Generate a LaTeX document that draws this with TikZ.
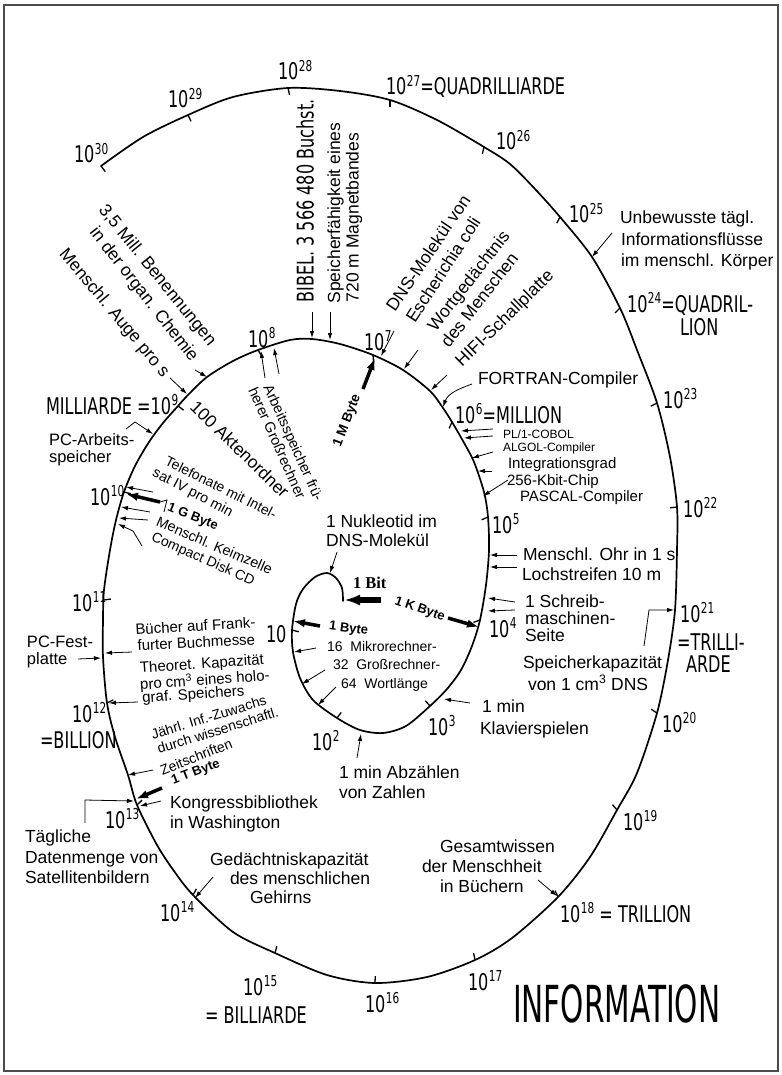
\documentclass[tikz,border=0pt]{standalone}
\usepackage{fontspec}
\setmainfont{Liberation Sans}
\newfontfamily\din[FakeStretch=0.7]{DejaVu Sans}
\newfontfamily\dintitle[FakeStretch=0.58]{DejaVu Sans}
\newfontfamily\bitfont{Liberation Serif}
\usetikzlibrary{arrows.meta,calc}
\newcommand\pw[1]{10\kern0.5pt\raisebox{8.5pt}{\fontsize{15}{15}\selectfont #1}}
\newcommand\mytick[2]{\draw[tk] (#1) -- ($(#1)!7pt!(#2)$);}
\begin{document}
\begin{tikzpicture}[x=1pt,y=-1pt,
  every node/.style={inner sep=0pt,outer sep=0pt},
  num/.style={font=\din\fontsize{23}{23}\selectfont,anchor=base west},
  txt/.style={font=\fontsize{17.5}{21}\selectfont,anchor=base west},
  stxt/.style={font=\fontsize{15}{18}\selectfont,anchor=base west},
  rtxt/.style={font=\fontsize{17.5}{21}\selectfont,anchor=mid},
  rstxt/.style={font=\fontsize{15}{18}\selectfont,anchor=mid},
  bld/.style={font=\bfseries\fontsize{13}{13}\selectfont,anchor=mid},
  arr/.style={line width=0.8pt,-{Latex[length=7pt,width=4.5pt]}},
  thk/.style={line width=3.5pt,-{Latex[length=12pt,width=8.5pt]}},
  tk/.style={line width=1.3pt},
  spiral/.style={line width=1.7pt,line join=round,line cap=round}]
\useasboundingbox (0,0) rectangle (781,1075);
\fill[white] (0,0) rectangle (781,1075);
\draw[black!70,line width=1.2pt] (4,5) rectangle (778,1071);

% spiral
\draw[spiral] plot[smooth,tension=0.5] coordinates {(343,601) (342,588) (336,578) (327,573) (315,577) (303,589) (296,604) (292,630) (293,652) (300,678) (313,700) (337,718) (360,730) (383,733) (406,726) (430,706) (447,689) (461,670) (472,646) (480,620) (486,585) (489,550) (488,517) (484,492) (474,462) (463,441) (452,422) (443,408) (430,391) (403,370) (373,355) (340,344) (312,339) (290,340) (258,350) (233,361) (207,377) (188,395) (178,406) (163,423) (149,442) (135,466) (124,492) (116,520) (110,550) (104,590) (103,620) (103,657) (107,703) (115,737) (128,775) (137,805) (157,845) (174,871) (193,895) (233,932) (275,953) (327,975) (375,983) (427,977) (475,960) (512,938) (558,897) (590,857) (617,810) (637,773) (657,713) (668,660) (675,610) (677,550) (677,507) (670,457) (657,403) (637,350) (620,308) (592,257) (560,217) (535,189) (510,164) (484,147) (437,120) (390,100) (340,91) (288,88) (233,97) (188,115) (143,137) (101,166)};

% tick points
\coordinate (Ci) at (385,655);
\coordinate (Cm) at (390,560);
\coordinate (Co) at (390,540);
\coordinate (D1) at (292,630);
\coordinate (D2) at (337,718);
\coordinate (D3) at (430,706);
\coordinate (D4) at (480,620);
\coordinate (D5) at (488,517);
\coordinate (D6) at (452,422);
\coordinate (D7) at (373,355);
\coordinate (D8) at (258,350);
\coordinate (D9) at (178,406);
\coordinate (D10) at (124,492);
\coordinate (D11) at (104,600);
\coordinate (D12) at (107,703);
\coordinate (D13) at (137,805);
\coordinate (D14) at (193,895);
\coordinate (D15) at (275,953);
\coordinate (D16) at (375,983);
\coordinate (D17) at (475,960);
\coordinate (D18) at (558,897);
\coordinate (D19) at (617,810);
\coordinate (D20) at (657,713);
\coordinate (D22) at (677,507);
\coordinate (D23) at (657,403);
\coordinate (D24) at (620,308);
\coordinate (D25) at (560,217);
\coordinate (D26) at (484,147);
\coordinate (D27) at (390,100);
\coordinate (D28) at (288,88);
\coordinate (D29) at (188,115);
\coordinate (D30) at (101,166);
\foreach \d in {D1,D2,D3,D4}{\mytick{\d}{Ci}}
\foreach \d in {D5,D6,D7,D8,D9,D10,D11,D12,D13}{\mytick{\d}{Cm}}
\foreach \d in {D14,D15,D16,D17,D18,D19,D20,D22,D23,D24,D25,D26,D27,D28,D29,D30}{\mytick{\d}{Co}}

% arrow end points
\foreach \n/\a/\b in {unb/{612,233}/{592,257}, ges/{538,880}/{557,896}, ged/{213,877}/{195,898},
  kon/{161,801}/{140,806}, zei/{153,770}/{128,775}, the/{138,702}/{109,703}, buc/{132,652}/{105,653},
  pcf/{78,659}/{101,658}, tel/{153,492}/{126,487}, gbx/{150,512}/{121,507}, kei/{148,520}/{119,518},
  mau/{170,378}/{187,394}, mil/{195,370}/{207,377}, abA/{265,378}/{261,351}, abB/{279,374}/{274,348},
  bib/{312,312}/{312,338}, spf/{330,312}/{330,340}, dns/{394,331}/{381,356}, wor/{418,350}/{404,369},
  hif/{447,375}/{431,390}, plc/{493,429}/{461,431}, alg/{493,436}/{464,438}, itg/{493,452}/{472,458},
  kbc/{492,471}/{478,471}, pas/{508,480}/{483,496}, ohr/{517,555}/{490,555}, loc/{517,567}/{490,567},
  scA/{515,602}/{488,598}, scB/{515,610}/{488,611}, kla/{470,703}/{444,699}, abz/{357,758}/{361,734},
  wA/{316,648}/{294,652}, wB/{325,670}/{302,684}, wC/{336,687}/{318,705}, nuk/{337,552}/{330,573}}
  {\coordinate (\n s) at (\a); \coordinate (\n e) at (\b); \draw[arr] (\n s) -- (\n e);}
\foreach \n/\a/\b in {tby/{162,788}/{136,799}, gby/{160,502}/{126,494}, mby/{363,389}/{375,358},
  kby/{448,618}/{479,627}, byt/{320,626}/{293,621}}
  {\coordinate (\n s) at (\a); \coordinate (\n e) at (\b); \draw[thk] (\n s) -- (\n e);}
\coordinate (bits) at (381,600); \coordinate (bite) at (344,600);
\draw[line width=5.5pt,-{Latex[length=16pt,width=11pt]}] (bits) -- (bite);
% bent connectors
\coordinate (gbk1) at (160,502); \coordinate (gbk2) at (167,500); \coordinate (gbk3) at (164,512);
\draw[line width=0.8pt] (gbk1) -- (gbk2) -- (gbk3);
\coordinate (cdd1) at (142,546); \coordinate (cdd2) at (133,531); \coordinate (cdd3) at (118,524);
\draw[arr] (cdd1) -- (cdd2) -- (cdd3);
\coordinate (spk1) at (644,646); \coordinate (spk2) at (649,610); \coordinate (spk3) at (674,610);
\draw[arr] (spk1) -- (spk2) -- (spk3);
\coordinate (tag1) at (85,823); \coordinate (tag2) at (85,800); \coordinate (tag3) at (134,801);
\draw[arr] (tag1) -- (tag2) -- (tag3);
\coordinate (pca1) at (126,429); \coordinate (pca2) at (135,422); \coordinate (pca3) at (153,434);
\draw[arr] (pca1) -- (pca2) -- (pca3);
\coordinate (for1) at (472,384); \coordinate (for2) at (443,407);
\draw[arr] (for1) to[out=200,in=70] (for2);

% decade labels
\node[num] (n30) at (74,163) {\pw{30}};
\node[num] (n29) at (168,108) {\pw{29}};
\node[num] (n28) at (278,80) {\pw{28}};
\node[num] (n27) at (386,95) {\pw{27}=QUADRILLIARDE};
\node[num] (n26) at (496,150) {\pw{26}};
\node[num] (n25) at (569,223) {\pw{25}};
\node[num] (n24) at (627,312) {\pw{24}=QUADRIL-};
\node[num] (n24b) at (680,335) {LION};
\node[num] (n23) at (663,408) {\pw{23}};
\node[num] (n22) at (683,517) {\pw{22}};
\node[num] (n21) at (680,622) {\pw{21}};
\node[num] (n21b) at (677,650) {=TRILLI-};
\node[num] (n21c) at (686,672) {ARDE};
\node[num] (n20) at (662,732) {\pw{20}};
\node[num] (n19) at (623,830) {\pw{19}};
\node[num] (n18) at (560,922) {\pw{18} = TRILLION};
\node[num] (n17) at (468,990) {\pw{17}};
\node[num] (n16) at (365,1012) {\pw{16}};
\node[num] (n15) at (243,995) {\pw{15}};
\node[num] (n15b) at (205,1023) {= BILLIARDE};
\node[num] (n14) at (160,921) {\pw{14}};
\node[num] (n13) at (105,828) {\pw{13}};
\node[num] (n12) at (72,722) {\pw{12}};
\node[num] (n12b) at (40,748) {=BILLION};
\node[num] (n11) at (72,611) {\pw{11}};
\node[num] (n10) at (90,505) {\pw{10}};
\node[num] (n9) at (46,414) {MILLIARDE =\pw{9}};
\node[num] (n8) at (248,347) {\pw{8}};
\node[num] (n7) at (364,350) {\pw{7}};
\node[num] (n6) at (455,423) {\pw{6}=MILLION};
\node[num] (n5) at (492,533) {\pw{5}};
\node[num] (n4) at (489,637) {\pw{4}};
\node[num] (n3) at (428,735) {\pw{3}};
\node[num] (n2) at (312,750) {\pw{2}};
\node[num] (n1) at (266,642) {10};
\node[font=\dintitle\fontsize{51}{51}\selectfont,anchor=base west] (title) at (513,1022) {INFORMATION};
\node[font=\din\fontsize{23}{23}\selectfont,anchor=mid,rotate=90] (bibel) at (311,201) {BIBEL. 3 566 480 Buchst.};

% horizontal texts
\node[txt] (u1) at (620,224) {Unbewusste tägl.};
\node[txt] (u2) at (621,245) {Informationsflüsse};
\node[txt] (u3) at (621,266.5) {im menschl. Körper};
\node[txt] (fort) at (478,384) {FORTRAN-Compiler};
\node[txt,font=\fontsize{12}{12}\selectfont] (pl1) at (503,438) {PL/1-COBOL};
\node[txt,font=\fontsize{12}{12}\selectfont] (algol) at (503,451) {ALGOL-Compiler};
\node[stxt] (integ) at (508,468) {Integrationsgrad};
\node[stxt] (kbit) at (507,485) {256-Kbit-Chip};
\node[stxt] (pascal) at (520,501) {PASCAL-Compiler};
\node[txt] (nuk1) at (326,527) {1 Nukleotid im};
\node[txt] (nuk2) at (326,546) {DNS-Molekül};
\node[txt] (ohr) at (523,560) {Menschl. Ohr in 1 s};
\node[txt] (loch) at (522,580) {Lochstreifen 10 m};
\node[txt] (sch1) at (525,607) {1 Schreib-};
\node[txt] (sch2) at (525,624) {maschinen-};
\node[txt] (sch3) at (525,641) {Seite};
\node[txt] (spk) at (523,668) {Speicherkapazität};
\node[txt] (spkb) at (528,690) {von 1 cm\textsuperscript{3} DNS};
\node[txt] (kla1) at (482,712) {1 min};
\node[txt] (kla2) at (480,734) {Klavierspielen};
\node[txt] (abz1) at (339,778) {1 min Abzählen};
\node[txt] (abz2) at (339,798) {von Zahlen};
\node[txt,font=\fontsize{14}{14}\selectfont] (w16) at (327,651) {16\ \ Mikrorechner-};
\node[txt,font=\fontsize{14}{14}\selectfont] (w32) at (333,669) {32\ \ Großrechner-};
\node[txt,font=\fontsize{14}{14}\selectfont] (w64) at (341,688) {64\ \ Wortlänge};
\node[txt,font=\fontsize{16.5}{16.5}\selectfont] (pca) at (49,445) {PC-Arbeits-};
\node[txt,font=\fontsize{16.5}{16.5}\selectfont] (pcab) at (49,462) {speicher};
\node[txt,font=\fontsize{16.5}{16.5}\selectfont] (pcf) at (27,647) {PC-Fest-};
\node[txt,font=\fontsize{16.5}{16.5}\selectfont] (pcfb) at (27,664) {platte};
\node[txt] (kon1) at (170,808) {Kongressbibliothek};
\node[txt] (kon2) at (170,828) {in Washington};
\node[txt] (tag1t) at (25,842) {Tägliche};
\node[txt] (tag2t) at (25,863) {Datenmenge von};
\node[txt] (tag3t) at (25,883) {Satellitenbildern};
\node[txt] (ged1) at (210,865) {Gedächtniskapazität};
\node[txt] (ged2) at (230,884) {des menschlichen};
\node[txt] (ged3) at (250,903) {Gehirns};
\node[txt] (ges1) at (440,852) {Gesamtwissen};
\node[txt] (ges2) at (422,872) {der Menschheit};
\node[txt] (ges3) at (440,892) {in Büchern};

% rotated texts
\node[rtxt,rotate=-51] (mil1) at (155.5,277) {3,5 Mill. Benennungen};
\node[rtxt,rotate=-52] (mil2) at (142,296) {in der organ. Chemie};
\node[rtxt,rotate=-50] (auge) at (112.5,314.5) {Menschl. Auge pro s};
\node[rtxt,rotate=90] (spf1) at (337.5,213) {Speicherfähigkeit eines};
\node[rtxt,rotate=90] (spf2) at (356,217.5) {720 m Magnetbandes};
\node[rtxt,rotate=56] (dns1) at (431,255) {DNS-Molekül von};
\node[rtxt,rotate=57] (dns2) at (446,271.5) {Escherichia coli};
\node[rtxt,rotate=52] (wor1) at (471,283) {Wortgedächtnis};
\node[rtxt,rotate=52] (wor2) at (482,302) {des Menschen};
\node[rtxt,rotate=44.5] (hifi) at (506.5,320.5) {HIFI-Schallplatte};
\node[rtxt,font=\fontsize{14.5}{14.5}\selectfont,rotate=-65.7] (arb1) at (291.5,443.5) {Arbeitsspeicher frü-};
\node[rtxt,font=\fontsize{14.5}{14.5}\selectfont,rotate=-66] (arb2) at (275,444) {herer Großrechner};
\node[rtxt,rotate=-44] (akt) at (237.5,452) {100 Aktenordner};
\node[rtxt,font=\fontsize{14}{14}\selectfont,rotate=-26.5] (tel1) at (220,489.5) {Telefonate mit Intel-};
\node[rtxt,font=\fontsize{14.3}{14.3}\selectfont,rotate=-27.5] (tel2) at (192,494) {sat IV pro min};
\node[bld,rotate=-21.5] (gb) at (192.5,518) {1 G Byte};
\node[rtxt,font=\fontsize{14.3}{14.3}\selectfont,rotate=-23.4] (kei) at (213.5,547.5) {Menschl. Keimzelle};
\node[rtxt,font=\fontsize{14}{14}\selectfont,rotate=-24] (cd) at (202.5,560.5) {Compact Disk CD};
\node[rstxt,rotate=3.5] (buc1) at (195.5,628.5) {Bücher auf Frank-};
\node[rstxt,rotate=3] (buc2) at (196.5,645) {furter Buchmesse};
\node[rstxt,rotate=3.8] (the1) at (202,666) {Theoret. Kapazität};
\node[rstxt,rotate=4] (the2) at (205,682.5) {pro cm\textsuperscript{3} eines holo-};
\node[rstxt,rotate=4] (the3) at (193.5,696.5) {graf. Speichers};
\node[rtxt,font=\fontsize{14}{14}\selectfont,rotate=17] (jah1) at (209.5,719.5) {Jährl. Inf.-Zuwachs};
\node[rtxt,font=\fontsize{14}{14}\selectfont,rotate=17.5] (jah2) at (218.5,732.5) {durch wissenschaftl.};
\node[rtxt,font=\fontsize{14}{14}\selectfont,rotate=21.8] (jah3) at (197,759) {Zeitschriften};
\node[bld,rotate=21] (tb) at (196,773) {1 T Byte};
\node[bld,rotate=-19] (kb) at (419.5,610) {1 K Byte};
\node[bld,rotate=-7] (by) at (348.5,629.5) {1 Byte};
\node[bld,font=\bfseries\fontsize{13.5}{13.5}\selectfont,rotate=69] (mb) at (348,421) {1 M Byte};
\node[font=\bitfont\bfseries\fontsize{16.5}{16.5}\selectfont,anchor=base west] (bit) at (353,588) {1 Bit};
\end{tikzpicture}
\end{document}
